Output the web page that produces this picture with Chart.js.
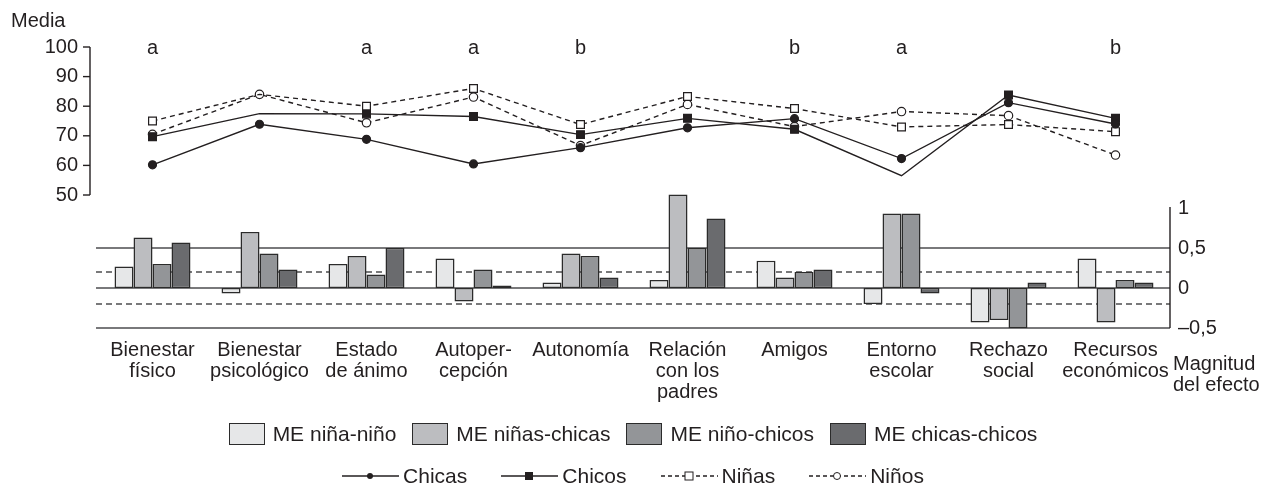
<!DOCTYPE html>
<html>
<head>
<meta charset="utf-8">
<script src="https://cdn.jsdelivr.net/npm/chart.js@4.4.1/dist/chart.umd.min.js"></script>
<style>
  html, body { margin: 0; padding: 0; background: #fff; }
  #wrap { position: relative; width: 1266px; height: 487px; font-family: "Liberation Sans", Arial, Helvetica, sans-serif; color: #231f20; }
  #chart { position: absolute; left: 0; top: 0; }
  .legend { position: absolute; left: 0; width: 1266px; display: flex; justify-content: center; align-items: center; font-size: 21px; line-height: 22px; white-space: nowrap; }
  #legBars { top: 423px; }
  #legLines { top: 465px; }
  .item { display: flex; align-items: center; }
  .box { width: 34px; height: 20px; border: 1.5px solid #2b2b2b; margin-right: 8px; }
  #legBars .item + .item { margin-left: 16px; }
  #legLines .item + .item { margin-left: 34px; }
  .item svg { margin-right: 4px; }
</style>
</head>
<body>
<div id="wrap">
  <canvas id="chart" width="1266" height="487"></canvas>
  <div class="legend" id="legBars"></div>
  <div class="legend" id="legLines"></div>
</div>
<script>
const categories = [
    ["Bienestar", "físico"], ["Bienestar", "psicológico"], ["Estado", "de ánimo"],
    ["Autoper-", "cepción"], ["Autonomía"], ["Relación", "con los", "padres"],
    ["Amigos"], ["Entorno", "escolar"], ["Rechazo", "social"], ["Recursos", "económicos"]
]
const sigLetters = ["a", "", "a", "a", "b", "", "b", "a", "", "b"]

// medias (escala izquierda)
const chicas = [60.2, 73.9, 68.8, 60.5, 66.0, 72.7, 75.8, 62.3, 81.2, 74.0]
const chicos = [69.7, 77.5, 77.4, 76.5, 70.4, 75.9, 72.2, 56.5, 83.8, 75.9]
const ninas  = [75.0, 84.0, 80.0, 86.0, 73.8, 83.3, 79.2, 73.0, 73.8, 71.4]
const ninos  = [70.5, 84.0, 74.4, 83.1, 66.7, 80.6, 73.1, 78.2, 76.8, 63.5]

// magnitud del efecto (escala derecha)
const meNinaNino     = [0.27, -0.07, 0.30, 0.37, 0.07, 0.10, 0.34, -0.20, -0.43, 0.37]
const meNinasChicas  = [0.63, 0.70, 0.40, -0.17, 0.43, 1.17, 0.13, 0.93, -0.40, -0.43]
const meNinoChicos   = [0.30, 0.43, 0.17, 0.23, 0.40, 0.50, 0.20, 0.93, -0.50, 0.10]
const meChicasChicos = [0.57, 0.23, 0.50, 0.03, 0.13, 0.87, 0.23, -0.07, 0.07, 0.07]

const mediaTicks = [50, 60, 70, 80, 90, 100]
const effectTicks = [-0.5, 0, 0.5, 1]
const effectTickLabels = ["\u20130,5", "0", "0,5", "1"]
const solidRefs = [0.5, 0, -0.5]
const dashedRefs = [0.2, -0.2]

const INK = "#231f20"
const FONT = "'Liberation Sans', Arial, Helvetica, sans-serif"

// points hidden in the original figure
const chicosRadius = chicos.map((v, i) => (i === 1 || i === 7) ? 0 : 5.5)
const ninasRadius = ninas.map((v, i) => i === 1 ? 0 : 5.5)

const barStyle = (label, data, fill) => ({
    type: "bar", label, data, yAxisID: "yB", order: 2,
    backgroundColor: fill, borderColor: "#2b2b2b", borderWidth: 1.5,
    borderSkipped: false, barPercentage: 1, categoryPercentage: 0.71, clip: false
})

const lineStyle = (label, data, opts) => Object.assign({
    type: "line", label, data, yAxisID: "yL", order: 1,
    borderColor: INK, borderWidth: 1.4, tension: 0, fill: false,
    pointBorderColor: INK, pointBorderWidth: 1.2
}, opts)

const decorations = {
    id: "decorations",
    beforeDatasetsDraw(chart) {
        const { ctx, chartArea, scales } = chart
        const yB = scales.yB, yL = scales.yL
        ctx.save()
        ctx.strokeStyle = "#4d4d4f"
        ctx.lineWidth = 1.4
        const x0 = chartArea.left - 3, x1 = chartArea.right + 1
        solidRefs.forEach(v => {
            const y = yB.getPixelForValue(v)
            ctx.beginPath(); ctx.moveTo(x0, y); ctx.lineTo(x1, y); ctx.stroke()
        })
        ctx.setLineDash([6, 4])
        dashedRefs.forEach(v => {
            const y = yB.getPixelForValue(v)
            ctx.beginPath(); ctx.moveTo(x0, y); ctx.lineTo(x1, y); ctx.stroke()
        })
        ctx.setLineDash([])
        // left axis (medias) only from 50 to 100
        ctx.strokeStyle = INK
        const ax = chartArea.left - 9
        ctx.beginPath()
        ctx.moveTo(ax, yL.getPixelForValue(100))
        ctx.lineTo(ax, yL.getPixelForValue(50))
        ctx.stroke()
        mediaTicks.forEach(v => {
            const y = yL.getPixelForValue(v)
            ctx.beginPath(); ctx.moveTo(ax - 7, y); ctx.lineTo(ax, y); ctx.stroke()
        })
        // right axis (magnitud del efecto)
        const rx = chartArea.right + 1
        ctx.beginPath()
        ctx.moveTo(rx, yB.getPixelForValue(1) - 1)
        ctx.lineTo(rx, yB.getPixelForValue(-0.5))
        ctx.stroke()
        ctx.restore()
    },
    afterDraw(chart) {
        const { ctx, chartArea, scales } = chart
        ctx.save()
        ctx.fillStyle = INK
        ctx.font = "20px " + FONT
        ctx.textBaseline = "middle"
        ctx.textAlign = "center"
        sigLetters.forEach((s, i) => {
            if (s) ctx.fillText(s, scales.x.getPixelForValue(i), scales.yL.getPixelForValue(100) + 1)
        })
        ctx.textAlign = "left"
        ctx.fillText("Media", 11, 21)
        ctx.fillText("Magnitud", chartArea.right + 4, 364)
        ctx.fillText("del efecto", chartArea.right + 4, 385)
        ctx.restore()
    }
}

new Chart(document.getElementById("chart"), {
    type: "bar",
    data: {
        labels: categories,
        datasets: [
            barStyle("ME niña-niño", meNinaNino, "#e6e7e8"),
            barStyle("ME niñas-chicas", meNinasChicas, "#bcbdc0"),
            barStyle("ME niño-chicos", meNinoChicos, "#939598"),
            barStyle("ME chicas-chicos", meChicasChicos, "#6a6b6e"),
            lineStyle("Chicas", chicas, { pointStyle: "circle", pointRadius: 4, pointBackgroundColor: INK }),
            lineStyle("Chicos", chicos, { pointStyle: "rect", pointRadius: chicosRadius, pointBackgroundColor: INK }),
            lineStyle("Niñas", ninas, { borderDash: [5, 4], pointStyle: "rect", pointRadius: ninasRadius, pointBackgroundColor: "#fff" }),
            lineStyle("Niños", ninos, { borderDash: [5, 4], pointStyle: "circle", pointRadius: 4.2, pointBackgroundColor: "#fff" })
        ]
    },
    options: {
        responsive: false,
        animation: false,
        layout: { padding: { top: 47, left: 0, right: 0, bottom: 0 } },
        plugins: { legend: { display: false }, tooltip: { enabled: false } },
        scales: {
            x: {
                type: "category",
                offset: true,
                grid: { display: false, drawTicks: false },
                border: { display: false },
                ticks: {
                    color: INK, font: { family: FONT, size: 20, lineHeight: 1.05 },
                    padding: 12, maxRotation: 0, autoSkip: false
                },
                afterFit(scale) { scale.height = 159 }
            },
            yL: {
                type: "linear", position: "left",
                min: 5.07, max: 100,
                grid: { display: false, drawTicks: false },
                border: { display: false },
                afterBuildTicks(scale) { scale.ticks = mediaTicks.map(v => ({ value: v })) },
                ticks: { color: INK, font: { family: FONT, size: 20 }, padding: 21 },
                afterFit(scale) { scale.width = 99 }
            },
            yB: {
                type: "linear", position: "right",
                min: -0.5, max: 3.0125,
                grid: { display: false, drawTicks: false },
                border: { display: false },
                afterBuildTicks(scale) { scale.ticks = effectTicks.map(v => ({ value: v })) },
                ticks: {
                    color: INK, font: { family: FONT, size: 20 }, padding: 9,
                    callback: (v) => effectTickLabels[effectTicks.indexOf(v)]
                },
                afterFit(scale) { scale.width = 97 }
            }
        }
    },
    plugins: [decorations]
})

// legend rows
const barLegend = [
    ["ME niña-niño", "#e6e7e8"], ["ME niñas-chicas", "#bcbdc0"],
    ["ME niño-chicos", "#939598"], ["ME chicas-chicos", "#6a6b6e"]
]
document.getElementById("legBars").innerHTML = barLegend.map(([t, c]) =>
    `<div class="item"><div class="box" style="background:${c}"></div>${t}</div>`).join("")

const lineLegend = [
    ["Chicas", "", `<circle cx="28" cy="6" r="3" fill="${INK}"/>`],
    ["Chicos", "", `<rect x="24" y="2" width="8" height="8" fill="${INK}"/>`],
    ["Niñas", "4 3", `<rect x="24" y="2" width="8" height="8" fill="#fff" stroke="${INK}" stroke-width="1"/>`],
    ["Niños", "4 3", `<circle cx="28" cy="6" r="3.5" fill="#fff" stroke="${INK}" stroke-width="1"/>`]
]
document.getElementById("legLines").innerHTML = lineLegend.map(([t, dash, mark]) =>
    `<div class="item"><svg width="57" height="12"><line x1="0" y1="6" x2="57" y2="6" stroke="${INK}" stroke-width="1.4" ${dash ? `stroke-dasharray="${dash}"` : ""}/>${mark}</svg>${t}</div>`).join("")
</script>
</body>
</html>
